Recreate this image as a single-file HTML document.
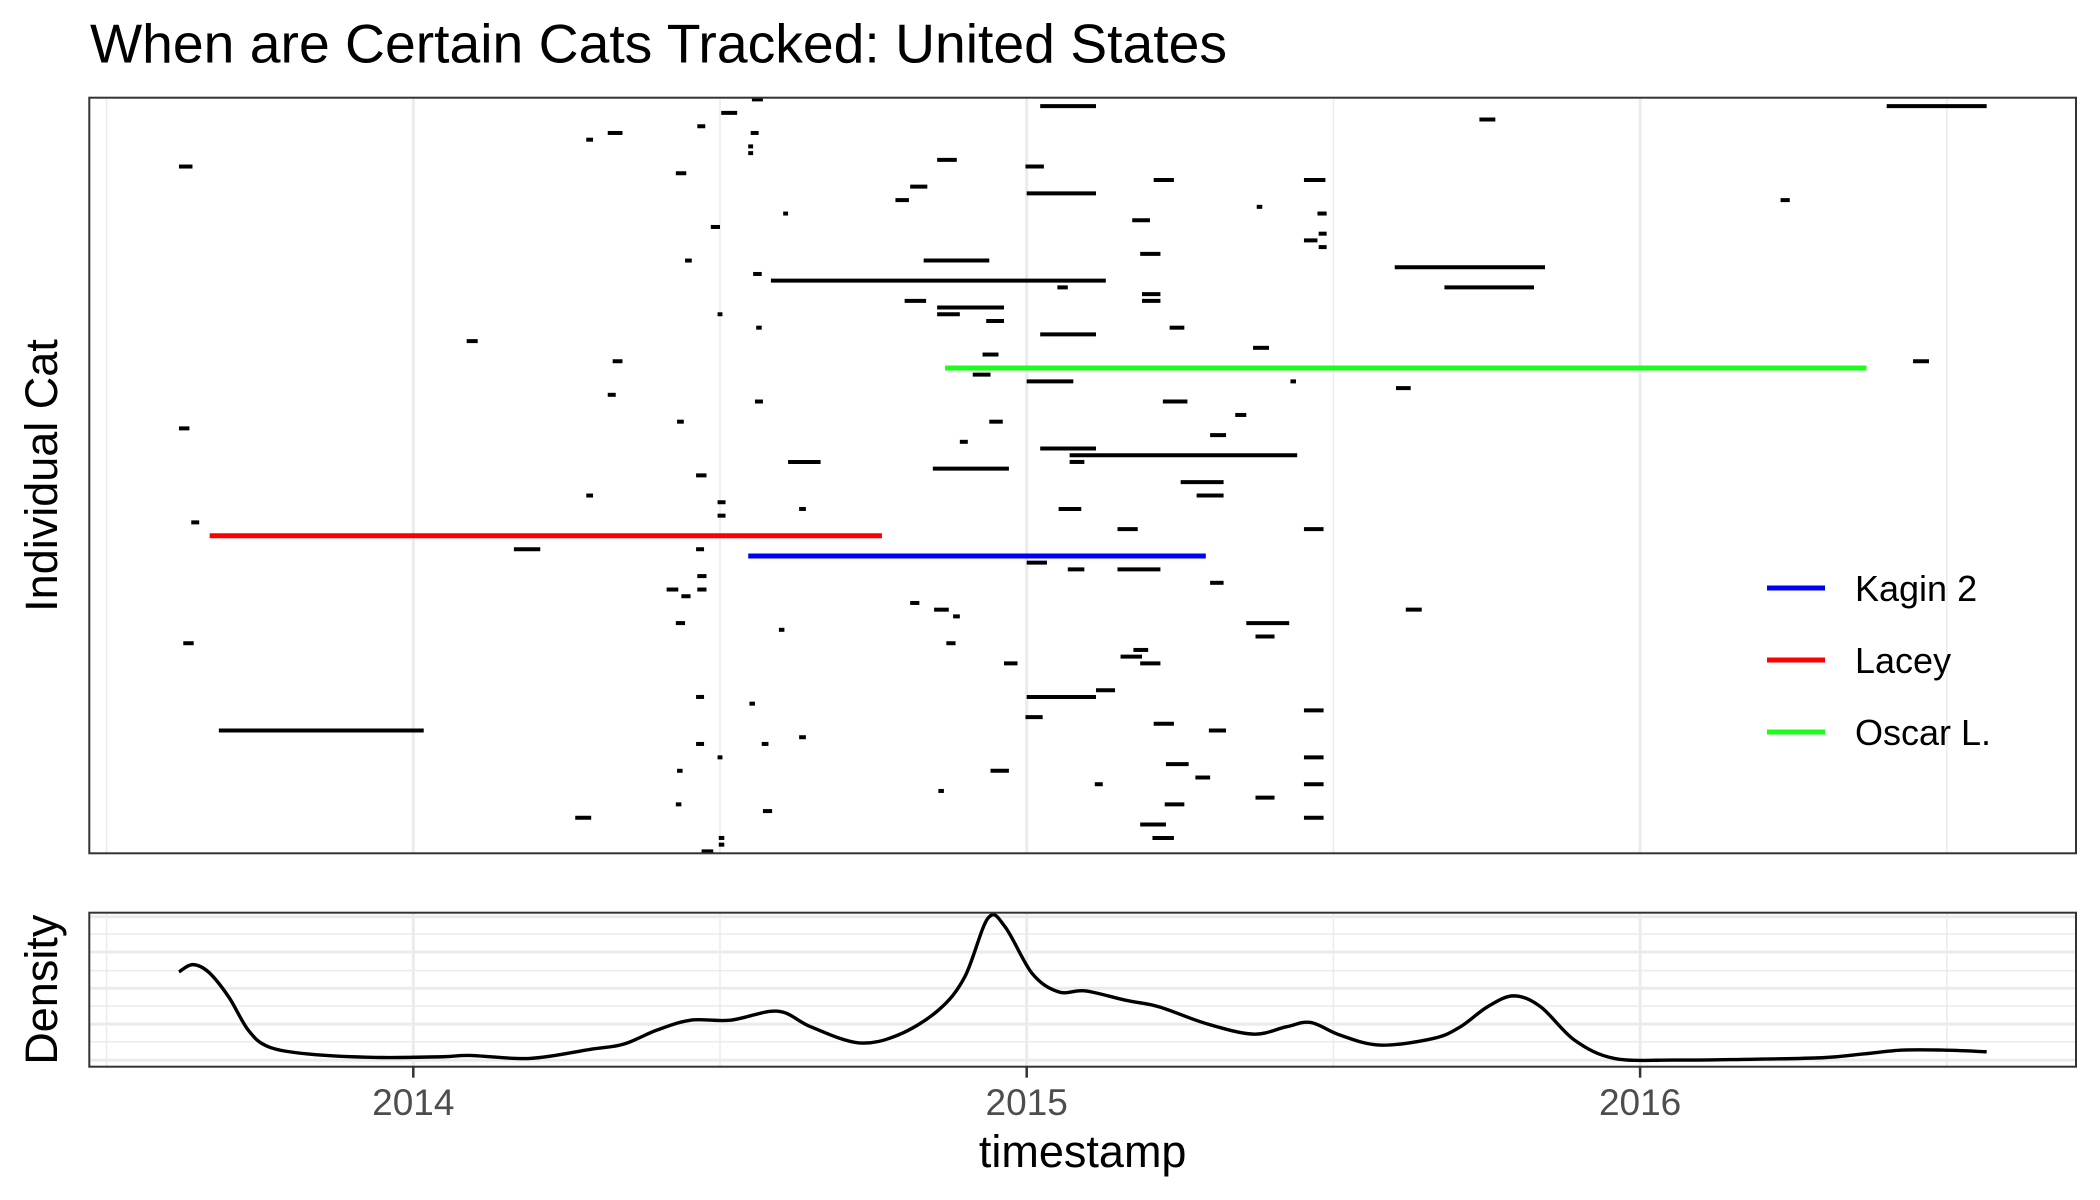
<!DOCTYPE html>
<html><head><meta charset="utf-8">
<style>
html,body{margin:0;padding:0;background:#fff;}
svg{display:block;font-family:"Liberation Sans",Arial,sans-serif;}
</style></head>
<body>
<svg id="chart" width="2100" height="1200" viewBox="0 0 2100 1200" xmlns="http://www.w3.org/2000/svg">
  <rect x="0" y="0" width="2100" height="1200" fill="#fff"/>
  <text x="90" y="62.7" font-size="55" fill="#000" textLength="1137" lengthAdjust="spacingAndGlyphs">When are Certain Cats Tracked: United States</text>
  <g id="mainGrid"></g>
  <g id="segs"></g>
  <g id="hl"></g>
  <rect x="89.3" y="97.7" width="1986.7" height="755.6" fill="none" stroke="#333" stroke-width="2"/>
  <g id="denGrid"></g>
  <path id="denLine" fill="none" stroke="#000" stroke-width="3.4"/>
  <rect x="89.3" y="912.7" width="1986.7" height="154" fill="none" stroke="#333" stroke-width="2"/>
  <g id="xAxis"></g>
  <text x="1082.7" y="1167" font-size="45" text-anchor="middle" fill="#000">timestamp</text>
  <text transform="translate(57,475.5) rotate(-90)" font-size="45" text-anchor="middle" fill="#000">Individual Cat</text>
  <text transform="translate(57,989.7) rotate(-90)" font-size="45" text-anchor="middle" fill="#000">Density</text>
  <g id="legend"></g>
</svg>
<script>
// ---- data ----
const segStart = [2015.022,2016.402,2014.552,2014.502,2014.463,2014.550,2014.317,2014.282,2014.546,2014.546,2015.738,2014.854,2014.998,2013.618,2014.428,2015.207,2015.452,2014.810,2015.000,2014.786,2016.229,2015.375,2014.603,2015.474,2015.172,2014.485,2015.452,2015.476,2015.476,2015.185,2014.832,2014.443,2015.600,2014.554,2014.583,2015.050,2015.681,2015.188,2015.188,2014.801,2014.854,2014.854,2014.496,2014.934,2014.559,2015.233,2015.022,2014.087,2015.369,2014.928,2016.445,2014.325,2014.912,2015.000,2015.430,2015.602,2014.317,2014.557,2015.222,2015.340,2014.430,2014.939,2013.618,2015.299,2014.891,2015.022,2015.070,2015.070,2014.611,2014.847,2014.461,2015.251,2014.282,2015.277,2014.496,2014.629,2015.052,2014.496,2013.638,2015.148,2015.452,2014.164,2014.461,2015.000,2015.148,2015.067,2014.463,2015.299,2014.463,2014.413,2014.437,2014.810,2014.849,2015.618,2014.880,2014.428,2015.358,2014.596,2015.373,2013.625,2014.869,2015.174,2015.153,2014.963,2015.185,2015.113,2015.000,2014.461,2014.548,2015.452,2014.998,2015.207,2013.683,2015.297,2014.629,2014.568,2014.461,2014.496,2015.452,2015.227,2014.430,2014.941,2015.275,2015.452,2015.111,2014.856,2015.373,2015.225,2014.428,2014.570,2014.264,2015.452,2015.185,2014.498,2015.205,2014.498,2014.470];
const segEnd   = [2015.113,2016.565,2014.570,2014.528,2014.476,2014.563,2014.341,2014.293,2014.554,2014.554,2015.764,2014.886,2015.028,2013.640,2014.445,2015.240,2015.487,2014.838,2015.113,2014.808,2016.244,2015.384,2014.611,2015.489,2015.201,2014.500,2015.474,2015.489,2015.489,2015.218,2014.939,2014.454,2015.845,2014.568,2015.129,2015.067,2015.827,2015.218,2015.218,2014.836,2014.963,2014.891,2014.504,2014.963,2014.568,2015.257,2015.113,2014.105,2015.395,2014.954,2016.471,2014.341,2014.941,2015.076,2015.439,2015.626,2014.330,2014.570,2015.262,2015.358,2014.441,2014.961,2013.635,2015.325,2014.904,2015.113,2015.441,2015.094,2014.664,2014.971,2014.478,2015.321,2014.293,2015.321,2014.509,2014.640,2015.089,2014.509,2013.651,2015.181,2015.484,2014.207,2014.474,2015.033,2015.218,2015.094,2014.478,2015.321,2014.478,2014.432,2014.452,2014.825,2014.873,2015.644,2014.891,2014.443,2015.428,2014.605,2015.404,2013.642,2014.884,2015.198,2015.188,2014.985,2015.218,2015.144,2015.113,2014.474,2014.557,2015.484,2015.026,2015.240,2014.017,2015.325,2014.640,2014.579,2014.474,2014.504,2015.484,2015.264,2014.439,2014.971,2015.299,2015.484,2015.124,2014.865,2015.404,2015.257,2014.437,2014.585,2014.290,2015.484,2015.227,2014.507,2015.240,2014.507,2014.489];
const segRow   = [1,1,0,2,4,5,5,6,7,8,3,9,10,10,11,12,12,13,14,15,15,16,17,17,18,19,21,20,22,23,24,24,25,26,27,28,28,29,30,30,31,32,32,33,34,34,35,36,37,38,39,39,41,42,42,43,44,45,45,47,48,48,49,50,51,52,53,54,54,55,56,57,59,59,60,61,61,62,63,64,64,67,67,69,70,70,71,72,73,73,74,75,76,76,77,78,78,79,80,81,81,82,83,84,84,88,89,89,90,91,92,93,94,94,95,96,96,98,98,99,100,100,101,102,102,103,104,105,105,106,107,107,108,110,110,111,112];
const hlNames  = ["Kagin 2","Lacey","Oscar L."];
const hlColors = ["#0000ff","#ff0000","#1aff1a"];
const hlStart  = [2014.546,2013.668,2014.867];
const hlEnd    = [2015.292,2014.764,2016.369];
const hlRow    = [68,65,40];
const denYears = [2013.618,2013.640,2013.666,2013.699,2013.731,2013.764,2013.830,2013.939,2014.048,2014.092,2014.190,2014.288,2014.343,2014.397,2014.452,2014.517,2014.594,2014.648,2014.725,2014.790,2014.856,2014.899,2014.937,2014.965,2015.009,2015.052,2015.096,2015.161,2015.216,2015.292,2015.369,2015.423,2015.463,2015.511,2015.576,2015.663,2015.707,2015.751,2015.794,2015.838,2015.893,2015.958,2016.056,2016.166,2016.297,2016.362,2016.428,2016.493,2016.565];
const denValues = [2.75,2.97,2.75,2.0,1.0,0.5,0.28,0.18,0.2,0.24,0.15,0.42,0.58,1.0,1.3,1.3,1.57,1.1,0.62,0.85,1.6,2.6,4.37,4.1,2.7,2.15,2.18,1.9,1.7,1.2,0.88,1.1,1.23,0.85,0.55,0.75,1.1,1.7,2.03,1.7,0.7,0.15,0.1,0.12,0.17,0.28,0.4,0.4,0.35];
const xMajor = [2014,2015,2016];
const xTickLabels = ["2014","2015","2016"];
const xMinor = [2013.5,2014.5,2015.5,2016.5];
const denMajor = [0.10,1.18,2.26,3.35,4.41];
const denMinor = [0.65,1.73,2.79,3.89];

// ---- scales ----
const NS = "http://www.w3.org/2000/svg";
const X = t => 413.3 + (t - 2014) * 613.4;
const YR = r => 99.4 + r * 6.714;
const YD = v => 1063.4 - v * 33.26;
const P = {l:89.3, r:2076, t:97.7, b:853.3, dt:912.7, db:1066.7};
function mk(tag, parent, attrs){ const e=document.createElementNS(NS,tag); for(const k in attrs) e.setAttribute(k,attrs[k]); parent.appendChild(e); return e; }

// grids
const mg = document.getElementById('mainGrid');
const dg = document.getElementById('denGrid');
xMinor.forEach(t=>{
  const a = mk('line', mg, {x1:X(t),x2:X(t),y1:P.t,y2:P.b,stroke:'#ebebeb','stroke-width':1.5});
  
  
  const b = mk('line', dg, {x1:X(t),x2:X(t),y1:P.dt,y2:P.db,stroke:'#ebebeb','stroke-width':1.5});
  
  
});
xMajor.forEach(t=>{
  const a = mk('line', mg, {x1:X(t),x2:X(t),y1:P.t,y2:P.b,stroke:'#ebebeb','stroke-width':3});
  
  
  const b = mk('line', dg, {x1:X(t),x2:X(t),y1:P.dt,y2:P.db,stroke:'#ebebeb','stroke-width':3});
  
  
});
denMinor.forEach(v=>{
  const a = mk('line', dg, {x1:P.l,x2:P.r,y1:YD(v),y2:YD(v),stroke:'#ebebeb','stroke-width':1.5});
  
  
});
denMajor.forEach(v=>{
  const a = mk('line', dg, {x1:P.l,x2:P.r,y1:YD(v),y2:YD(v),stroke:'#ebebeb','stroke-width':3});
  
  
});

// segments
const sg = document.getElementById('segs');
segStart.forEach((s,i)=>{
  let x1 = X(s), x2 = X(segEnd[i]);
  if (x2 - x1 < 3) x2 = x1 + 3;
  const l = mk('line', sg, {x1:x1,x2:x2,y1:YR(segRow[i]),y2:YR(segRow[i]),stroke:'#000','stroke-width':4});
  
  
});
const hg = document.getElementById('hl');
hlNames.forEach((n,i)=>{
  const l = mk('line', hg, {x1:X(hlStart[i]),x2:X(hlEnd[i]),y1:YR(hlRow[i]),y2:YR(hlRow[i]),stroke:hlColors[i],'stroke-width':5});
  
  
});

// density line (Catmull-Rom)
const pts = denYears.map((t,i)=>[X(t),YD(denValues[i])]);
let d = 'M'+pts[0][0]+','+pts[0][1];
for(let i=0;i<pts.length-1;i++){
  const p0=pts[Math.max(0,i-1)],p1=pts[i],p2=pts[i+1],p3=pts[Math.min(pts.length-1,i+2)];
  const c1=[p1[0]+(p2[0]-p0[0])/6,p1[1]+(p2[1]-p0[1])/6];
  const c2=[p2[0]-(p3[0]-p1[0])/6,p2[1]-(p3[1]-p1[1])/6];
  d+=' C'+c1[0]+','+c1[1]+' '+c2[0]+','+c2[1]+' '+p2[0]+','+p2[1];
}
document.getElementById('denLine').setAttribute('d',d);

// x axis
const xa = document.getElementById('xAxis');
xMajor.forEach((t,i)=>{
  const tk = mk('line', xa, {x1:X(t),x2:X(t),y1:P.db,y2:P.db+11,stroke:'#333','stroke-width':2.5});
  
  
  const tx = mk('text', xa, {x:X(t),y:1115,'font-size':37,'text-anchor':'middle',fill:'#4d4d4d'});
  tx.textContent = xTickLabels[i];
  
  
});

// legend
const lg = document.getElementById('legend');
const legY = [588,660,732];
hlNames.forEach((n,i)=>{
  const l = mk('line', lg, {x1:1767,x2:1825,y1:legY[i],y2:legY[i],stroke:hlColors[i],'stroke-width':5});
  
  
  const t = mk('text', lg, {x:1855,y:legY[i]+13,'font-size':36,fill:'#000'});
  t.textContent = n;
  
  
});
</script>
</body></html>
